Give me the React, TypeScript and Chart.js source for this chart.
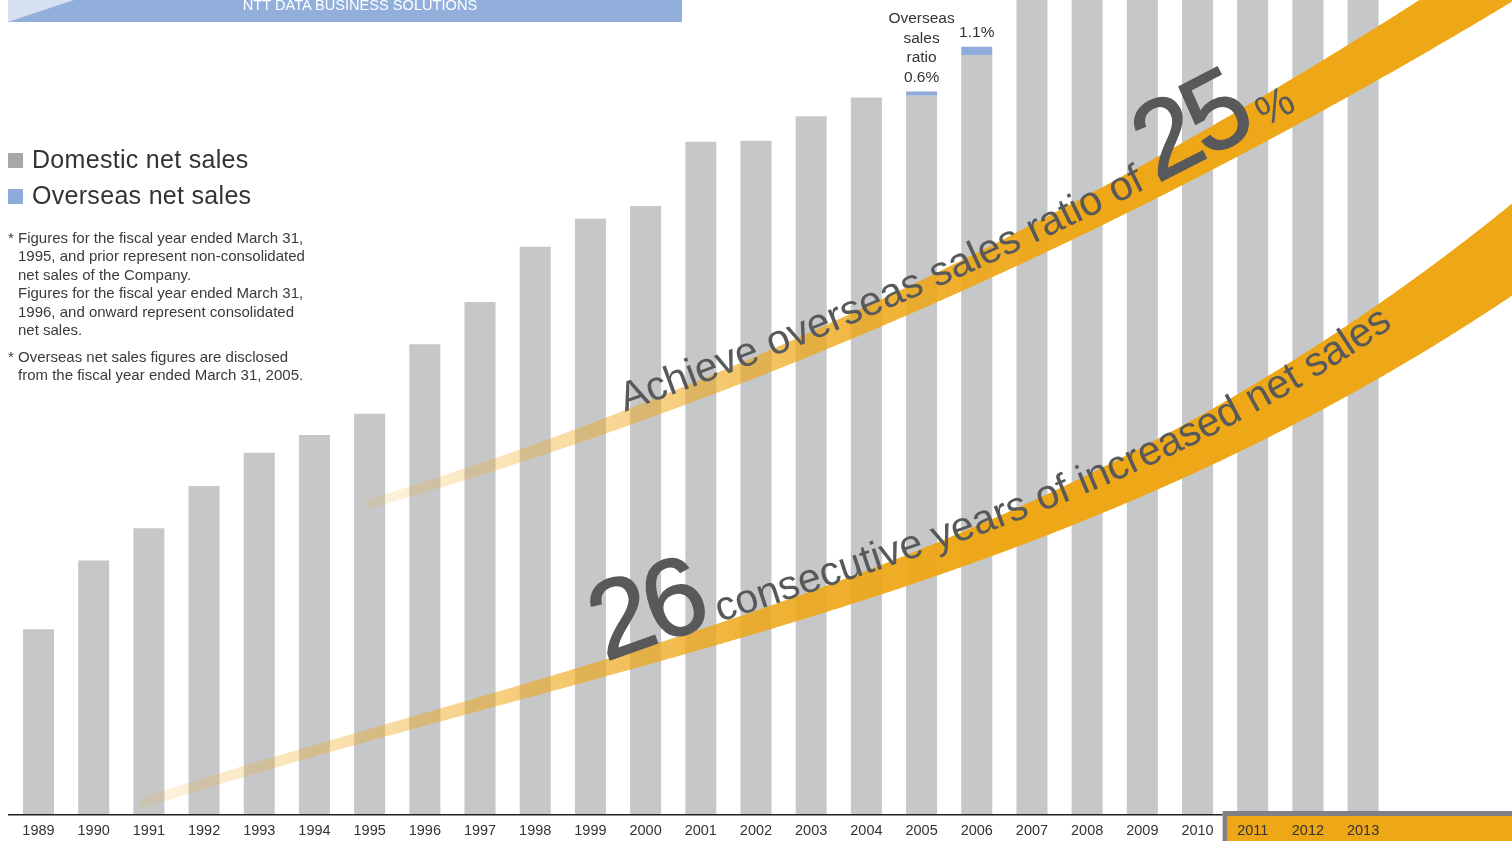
import React, { useEffect, useRef } from "react";
import { Chart, registerables } from "chart.js";

Chart.register(...registerables);

// ---------------- data (¥ billion) ----------------
const YEARS = [
  "1989", "1990", "1991", "1992", "1993", "1994", "1995", "1996", "1997",
  "1998", "1999", "2000", "2001", "2002", "2003", "2004", "2005", "2006",
  "2007", "2008", "2009", "2010", "2011", "2012", "2013",
];
const DOMESTIC_SALES = [
  219, 300, 338, 388, 427, 448, 473, 555, 605, 670, 703, 718, 794, 795, 824,
  846, 848, 896, 1000, 987, 1049, 1048, 1052, 1091, 1102,
];
const OVERSEAS_SALES = [
  null, null, null, null, null, null, null, null, null, null, null, null, null,
  null, null, null, 5, 10, 45, 80, 90, 95, 110, 160, 200,
];
const OVERSEAS_RATIO = [
  null, null, null, null, null, null, null, null, null, null, null, null, null,
  null, null, null, "0.6%", "1.1%", null, null, null, null, null, null, null,
];
const RATIO_CAPTION = ["Overseas", "sales", "ratio"];
const Y_MAX = 961;
const HIGHLIGHT_FROM = "2011";

const LEGEND_ITEMS = ["Domestic net sales", "Overseas net sales"];
const NOTE_1 = [
  "Figures for the fiscal year ended March 31,",
  "1995, and prior represent non-consolidated",
  "net sales of the Company.",
  "Figures for the fiscal year ended March 31,",
  "1996, and onward represent consolidated",
  "net sales.",
];
const NOTE_2 = [
  "Overseas net sales figures are disclosed",
  "from the fiscal year ended March 31, 2005.",
];

// ---------------- styles ----------------
const FONT = '"Liberation Sans", Arial, Helvetica, sans-serif';
const BAR_GREY = "#c6c7c9";
const LEGEND_GREY = "#a7a8aa";
const BLUE = "#8fabd9";
const ORANGE = [238, 167, 23];
const TEXT_DARK = "#58595b";

// ---------------- decorative ribbons (canvas px) ----------------
const pos = (v: number) => Math.max(0, v);
const upperBaseline = (x: number) => {
  const d = x - 630;
  return 410 - 0.35719 * d - 1.3866e-4 * d * d;
};
const lowerBaseline = (x: number) => {
  const d = x - 602;
  return 663 - 0.36631 * d + 2.0311e-4 * d * d - 3.5116e-7 * d * d * d;
};
type Band = {
  x0: number;
  x1: number;
  fadeTo: number;
  lower: (x: number) => number;
  thick: (x: number) => number;
};
const UPPER_BAND: Band = {
  x0: 365,
  x1: 1600,
  fadeTo: 1100,
  lower: (x) => upperBaseline(x) + 15,
  thick: (x) => 10 + 52 * Math.pow(pos((x - 365) / 1147), 1.4),
};
const LOWER_BAND: Band = {
  x0: 140,
  x1: 1600,
  fadeTo: 1000,
  lower: (x) => {
    const d = x - 140;
    return 809 - 0.321 * d + 1.3764e-4 * d * d - 1.2804e-7 * d * d * d;
  },
  thick: (x) => 11 + 81 * Math.pow(pos((x - 140) / 1372), 2.4),
};

function drawBand(ctx: CanvasRenderingContext2D, band: Band) {
  const top: number[][] = [];
  const bot: number[][] = [];
  const center = (x: number) => band.lower(x) - band.thick(x) / 2;
  for (let x = band.x0; x <= band.x1; x += 3) {
    const th = band.thick(x);
    const c = center(x);
    const s = center(x + 1) - c;
    const L = Math.hypot(1, s);
    const hw = th / (2 * L);
    const nx = -s / L;
    const ny = 1 / L;
    top.push([x - nx * hw, c - ny * hw]);
    bot.push([x + nx * hw, c + ny * hw]);
  }
  const g = ctx.createLinearGradient(band.x0, 0, band.fadeTo, 0);
  const [r, gg, b] = ORANGE;
  g.addColorStop(0, `rgba(${r},${gg},${b},0.12)`);
  g.addColorStop(0.3, `rgba(${r},${gg},${b},0.42)`);
  g.addColorStop(0.7, `rgba(${r},${gg},${b},0.85)`);
  g.addColorStop(1, `rgba(${r},${gg},${b},1)`);
  ctx.save();
  ctx.beginPath();
  top.forEach(([x, y], i) => (i === 0 ? ctx.moveTo(x, y) : ctx.lineTo(x, y)));
  for (let i = bot.length - 1; i >= 0; i--) ctx.lineTo(bot[i][0], bot[i][1]);
  ctx.closePath();
  ctx.fillStyle = g;
  ctx.fill();
  ctx.restore();
}

function pathFrom(fn: (x: number) => number, x0: number, x1: number) {
  let d = "";
  for (let x = x0; x <= x1; x += 4) {
    d += (d ? " L " : "M ") + x.toFixed(1) + " " + fn(x).toFixed(2);
  }
  return d;
}

const decorPlugin = {
  id: "decor",
  afterDatasetsDraw(chart: any) {
    const { ctx, chartArea, scales } = chart;
    drawBand(ctx, UPPER_BAND);
    drawBand(ctx, LOWER_BAND);

    // overseas ratio labels above the stacked bars
    const meta = chart.getDatasetMeta(1);
    const first = OVERSEAS_RATIO.findIndex((v) => v);
    ctx.save();
    ctx.fillStyle = "#333";
    ctx.font = `15.5px ${FONT}`;
    ctx.textAlign = "center";
    ctx.textBaseline = "alphabetic";
    OVERSEAS_RATIO.forEach((r, i) => {
      if (!r) return;
      const el = meta.data[i];
      const lines = i === first ? [...RATIO_CAPTION, r] : [r];
      lines.forEach((ln, k) => {
        ctx.fillText(ln, el.x, el.y - 10 - (lines.length - 1 - k) * 19.5);
      });
    });
    ctx.restore();

    // axis line + highlighted box for the latest years
    const xs = scales.x;
    const idx = YEARS.indexOf(HIGHLIGHT_FROM);
    const step = xs.getPixelForValue(1) - xs.getPixelForValue(0);
    const boxLeft = xs.getPixelForValue(idx) - step / 2 - 2.5;
    const bottom = chartArea.bottom;
    ctx.save();
    ctx.fillStyle = "#231f20";
    ctx.fillRect(8, bottom - 1, boxLeft - 8, 1.5);
    ctx.fillStyle = "#808184";
    ctx.fillRect(boxLeft, bottom - 4, chart.width - boxLeft, chart.height - bottom + 4);
    ctx.fillStyle = `rgb(${ORANGE.join(",")})`;
    ctx.fillRect(boxLeft + 4.5, bottom + 1, chart.width - boxLeft, chart.height - bottom);
    ctx.restore();
  },
};

export default function App() {
  const ref = useRef<HTMLCanvasElement | null>(null);

  useEffect(() => {
    if (!ref.current) return;
    const chart = new Chart(ref.current, {
      type: "bar",
      data: {
        labels: YEARS,
        datasets: [
          {
            label: LEGEND_ITEMS[0],
            data: DOMESTIC_SALES,
            backgroundColor: BAR_GREY,
            borderWidth: 0,
            barPercentage: 0.562,
            categoryPercentage: 1,
          },
          {
            label: LEGEND_ITEMS[1],
            data: OVERSEAS_SALES as any,
            backgroundColor: BLUE,
            borderWidth: 0,
            barPercentage: 0.562,
            categoryPercentage: 1,
          },
        ],
      },
      options: {
        animation: false,
        responsive: false,
        maintainAspectRatio: false,
        devicePixelRatio: 1,
        layout: { padding: { left: 10.9, right: 121.3, top: 0, bottom: 0 } },
        plugins: {
          legend: { display: false },
          tooltip: { enabled: false },
          title: { display: false },
        },
        scales: {
          x: {
            stacked: true,
            grid: { display: false, drawTicks: false },
            border: { display: false },
            ticks: {
              autoSkip: false,
              maxRotation: 0,
              padding: 7,
              color: "#333",
              font: { family: FONT, size: 14.5 },
              z: 1,
            },
            afterFit: (s: any) => {
              s.height = 26;
            },
          },
          y: { stacked: true, display: false, min: 0, max: Y_MAX },
        },
      },
      plugins: [decorPlugin],
    });
    return () => chart.destroy();
  }, []);

  const upperPath = pathFrom(upperBaseline, 625, 1580);
  const lowerPath = pathFrom(lowerBaseline, 605, 1580);

  return (
    <div
      style={{
        position: "fixed",
        left: 0,
        top: 0,
        width: 1512,
        height: 841,
        background: "#fff",
        overflow: "hidden",
        fontFamily: FONT,
      }}
    >
      <canvas
        ref={ref}
        width={1512}
        height={841}
        style={{ position: "absolute", left: 0, top: 0, width: 1512, height: 841 }}
      />
      <svg
        width={1512}
        height={841}
        style={{ position: "absolute", left: 0, top: 0, pointerEvents: "none" }}
      >
        <rect x={8} y={0} width={674} height={22} fill="#92afdc" />
        <polygon points="8,0 74,0 8,22" fill="#d5e0f1" />
        <text
          x={360}
          y={10}
          textAnchor="middle"
          fontFamily={FONT}
          fontSize={14.6}
          fill="#fff"
        >
          NTT DATA BUSINESS SOLUTIONS
        </text>
        <defs>
          <path id="upperTextPath" d={upperPath} />
          <path id="lowerTextPath" d={lowerPath} />
        </defs>
        <text fontFamily={FONT} fill={TEXT_DARK}>
          <textPath href="#upperTextPath">
            <tspan fontSize={41}>Achieve overseas sales ratio of </tspan>
            <tspan
              fontSize={110}
              letterSpacing={-6}
              stroke={TEXT_DARK}
              strokeWidth={1.5}
            >
              25
            </tspan>
            <tspan fontSize={42}> %</tspan>
          </textPath>
        </text>
        <text fontFamily={FONT} fill={TEXT_DARK}>
          <textPath href="#lowerTextPath">
            <tspan
              fontSize={110}
              letterSpacing={-6}
              stroke={TEXT_DARK}
              strokeWidth={1.5}
            >
              26
            </tspan>
            <tspan fontSize={41}> consecutive years of increased net sales</tspan>
          </textPath>
        </text>
      </svg>

      {LEGEND_ITEMS.map((t, i) => (
        <div key={t}>
          <div
            style={{
              position: "absolute",
              left: 8,
              top: 152.5 + i * 36,
              width: 15,
              height: 15,
              background: i === 0 ? LEGEND_GREY : BLUE,
            }}
          />
          <div
            style={{
              position: "absolute",
              left: 32,
              top: 146.5 + i * 36,
              fontSize: 25,
              lineHeight: "25px",
              letterSpacing: 0.3,
              color: "#333",
              whiteSpace: "nowrap",
            }}
          >
            {t}
          </div>
        </div>
      ))}

      {[
        { lines: NOTE_1, top: 228.8 },
        { lines: NOTE_2, top: 347.8 },
      ].map((n, k) => (
        <div key={k} style={{ position: "absolute", left: 0, top: n.top }}>
          <div
            style={{
              position: "absolute",
              left: 8,
              top: 0,
              fontSize: 15,
              lineHeight: "18.5px",
              color: "#3a3a3a",
            }}
          >
            *
          </div>
          <div
            style={{
              position: "absolute",
              left: 18,
              top: 0,
              fontSize: 15,
              lineHeight: "18.5px",
              color: "#3a3a3a",
              whiteSpace: "nowrap",
            }}
          >
            {n.lines.map((l, i) => (
              <div key={i}>{l}</div>
            ))}
          </div>
        </div>
      ))}
    </div>
  );
}
